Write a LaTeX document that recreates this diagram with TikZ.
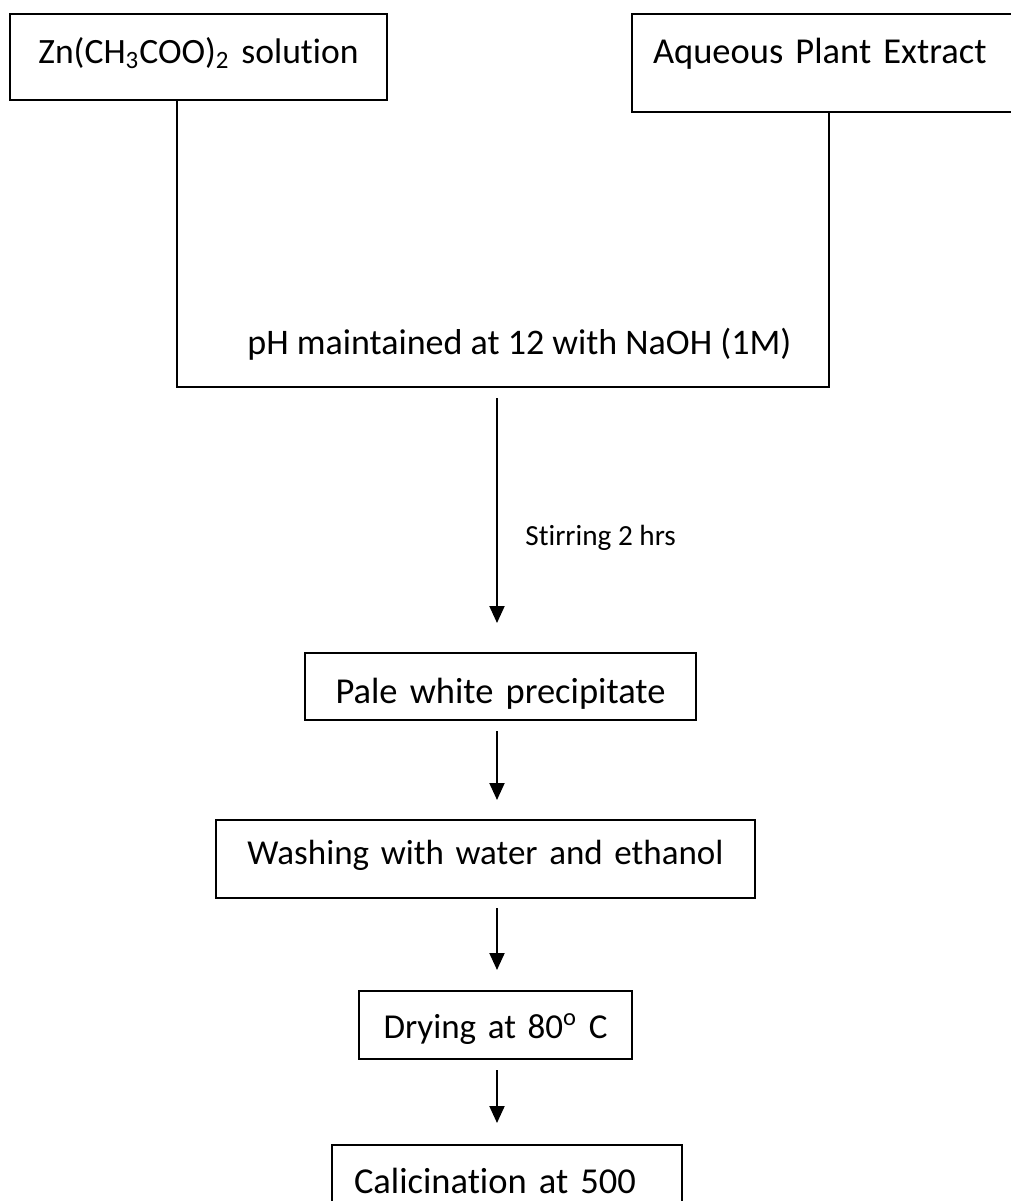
\documentclass[tikz,border=0pt]{standalone}
\usepackage{fontspec}
\setmainfont{Carlito}[Ligatures=NoCommon]
\usetikzlibrary{arrows.meta}
\tikzset{
	stepbox/.style={draw,line width=1pt,inner sep=0pt,anchor=north west,align=center,font=\fontsize{18.25pt}{22pt}\selectfont},
	flowarrow/.style={->,line width=1pt},
}
\begin{document}
\begin{tikzpicture}[>={Triangle[length=8.5pt,width=7.5pt]},x=0.5pt,y=-0.5pt]
	\useasboundingbox (0,0) rectangle (1011,1201);
	\clip (0,0) rectangle (1011,1201);
	\node[stepbox,font=\fontsize{17.8pt}{22pt}\selectfont,text width=188.5pt,text height=24.5pt,text depth=18.5pt] (zinc) at (9,13) {Zn(CH\textsubscript{3}COO)\textsubscript{2} solution};
	\node[stepbox,align=left,inner xsep=10.5pt,text width=183.5pt,text height=24.5pt,text depth=24.5pt] (extract) at (631,13) {Aqueous Plant Extract};
	\node[stepbox,text width=195.5pt,text height=25pt,text depth=8.5pt] (precip) at (304,652) {Pale white precipitate};
	\node[stepbox,font=\fontsize{17.5pt}{22pt}\selectfont,text width=269.5pt,text height=22pt,text depth=17pt] (wash) at (215,819) {Washing with water and ethanol};
	\node[stepbox,font=\fontsize{17.5pt}{22pt}\selectfont,text width=136.5pt,text height=23.5pt,text depth=10.5pt] (dry) at (358,990) {Drying at 80\textsuperscript{o} C};
	\node[stepbox,align=left,inner xsep=11pt,text width=153pt,text height=24pt,text depth=24pt] (calc) at (331,1144) {Calicination at 500};
	\coordinate (uL) at (177,387);
	\coordinate (uR) at (829,387);
	\coordinate (axis) at (497,387);
	\draw[line width=1pt] (zinc.south -| uL) -- (uL) -- (uR) -- (extract.south -| uR);
	\node[anchor=base west,inner sep=0pt,font=\fontsize{18pt}{22pt}\selectfont] (phnote) at (247,354) {pH maintained at 12 with NaOH (1M)};
	\node[anchor=base west,inner sep=0pt,font=\fontsize{14.6pt}{18pt}\selectfont] (stirnote) at (525,545) {Stirring 2 hrs};
	\draw[flowarrow,shorten <=5.5pt,shorten >=14.5pt] (axis) -- (precip.north -| axis);
	\draw[flowarrow,shorten <=5pt,shorten >=9.5pt] (precip.south -| axis) -- (wash.north -| axis);
	\draw[flowarrow,shorten <=4.5pt,shorten >=10pt] (wash.south -| axis) -- (dry.north -| axis);
	\draw[flowarrow,shorten <=5pt,shorten >=10.5pt] (dry.south -| axis) -- (calc.north -| axis);
\end{tikzpicture}
\end{document}
